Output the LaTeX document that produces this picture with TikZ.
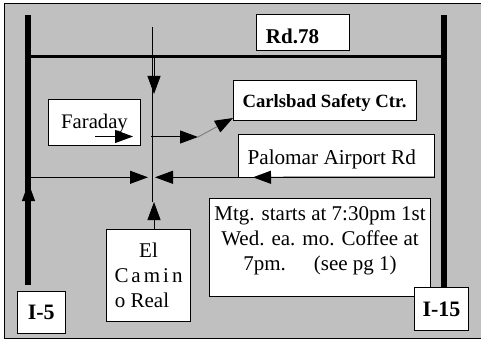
\documentclass[tikz,border=0pt]{standalone}
\usepackage{xcolor}
\usepackage{fontspec}
\setmainfont{Liberation Serif}
\usetikzlibrary{arrows.meta,positioning}
\definecolor{mapgray}{RGB}{192,192,192}
\newcommand{\dropby}[2]{\raisebox{-#1}[\height][\depth]{#2}}
\tikzstyle{block} = [rectangle, draw=black, fill=white, line width=1pt, inner sep=0pt, outer sep=0pt, align=center, font=\fontsize{21}{25}\selectfont]
\tikzstyle{shield} = [block, font=\fontsize{22}{26}\selectfont\bfseries]
\tikzstyle{road} = [line width=6pt, line cap=butt]
\tikzset{>={Triangle[length=18pt,width=13pt]}}

\begin{document}
\begin{tikzpicture}[x=1pt, y=-1pt, line width=1pt]
	\useasboundingbox (0,0) rectangle (481,339);
	\fill[mapgray] (4.5,3.5) rectangle (481,338);
	\draw (481,3.5) -- (4.5,3.5) -- (4.5,338) -- (481,338);

	\coordinate (i5top) at (28,15);
	\coordinate (i5end) at (28,285);
	\coordinate (i15top) at (444,15);
	\coordinate (i15end) at (444,287);
	\coordinate (w78) at (31,56.5);
	\coordinate (e78) at (441,56.5);
	\coordinate (ntop) at (152.5,27);
	\coordinate (nend) at (152.5,202);
	\draw[road] (i5top) -- (i5end);
	\draw[road] (i15top) -- (i15end);
	\draw[line width=3pt] (w78) -- (e78);
	\draw (ntop) -- (nend);

	\node[block, minimum width=92pt, minimum height=46pt] (faraday) at (94.5,123) {\fontsize{20.7}{25}\selectfont \dropby{1pt}{Faraday}};
	\node[block, minimum width=92pt, minimum height=36pt, font=\fontsize{21}{25}\selectfont\bfseries] (rd) at (303,33) {\hspace*{9pt}\dropby{3.5pt}{Rd.78}\hspace*{30pt}};
	\node[block, minimum width=183pt, minimum height=40pt, font=\fontsize{18.7}{22}\selectfont\bfseries] (safety) at (324.5,101) {\dropby{2pt}{Carlsbad Safety Ctr.}};
	\node[block, minimum width=195.5pt, minimum height=42pt] (palomar) at (336.25,156) {\fontsize{21.2}{25}\selectfont \dropby{3pt}{Palomar Airport Rd}\hspace*{9pt}};
	\node[block, minimum width=221pt, minimum height=98.5pt] (mtg) at (320,247.25) {Mtg. starts at 7:30pm 1st\\Wed. ea. mo. Coffee at\\7pm.\hspace{28pt}(see pg 1)\\[-8pt]};
	\node[block, minimum width=84pt, minimum height=91.5pt] (camino) at (148.5,275.25) {El\\C\hspace{3pt}a\hspace{3pt}m\hspace{3pt}i\hspace{3pt}n\\o Real\hspace*{13pt}};
	\node[shield, minimum width=48.5pt, minimum height=42pt] (ifive) at (41.25,312.5) {I-5};
	\node[shield, minimum width=54pt, minimum height=43pt] (ififteen) at (441.5,309) {I-15};

	\coordinate (dstart) at (154,56.5);
	\coordinate (dtip) at (154,94);
	\coordinate (ftip) at (133,136.5);
	\coordinate (fstart) at (95,136.5);
	\coordinate (estart) at (151,137);
	\coordinate (ebend) at (198,137);
	\coordinate (etip) at (233,118);
	\coordinate (wstart) at (31,177.3);
	\coordinate (wtip) at (148,177.3);
	\coordinate (ptip) at (253,177.3);
	\coordinate (ctip) at (155,177.3);
	\coordinate (ctop) at (154,202);
	\coordinate (ustart) at (28.5,214);
	\coordinate (utip) at (28.5,183);

	\draw[->] (dstart) -- (dtip);
	\draw[->] (fstart) -- (ftip);
	\draw[->] (estart) -- (ebend);
	\draw[gray, -{Triangle[length=18pt,width=13pt,black]}] (ebend) -- (etip);
	\draw[->] (wstart) -- (wtip);
	\draw[->] (palomar.south east) -- (ptip);
	\draw[->] (ptip) -- (ctip);
	\draw[->] (camino.north -| ctop) -- (ctop);
	\draw[->] (ustart) -- (utip);
\end{tikzpicture}
\end{document}
